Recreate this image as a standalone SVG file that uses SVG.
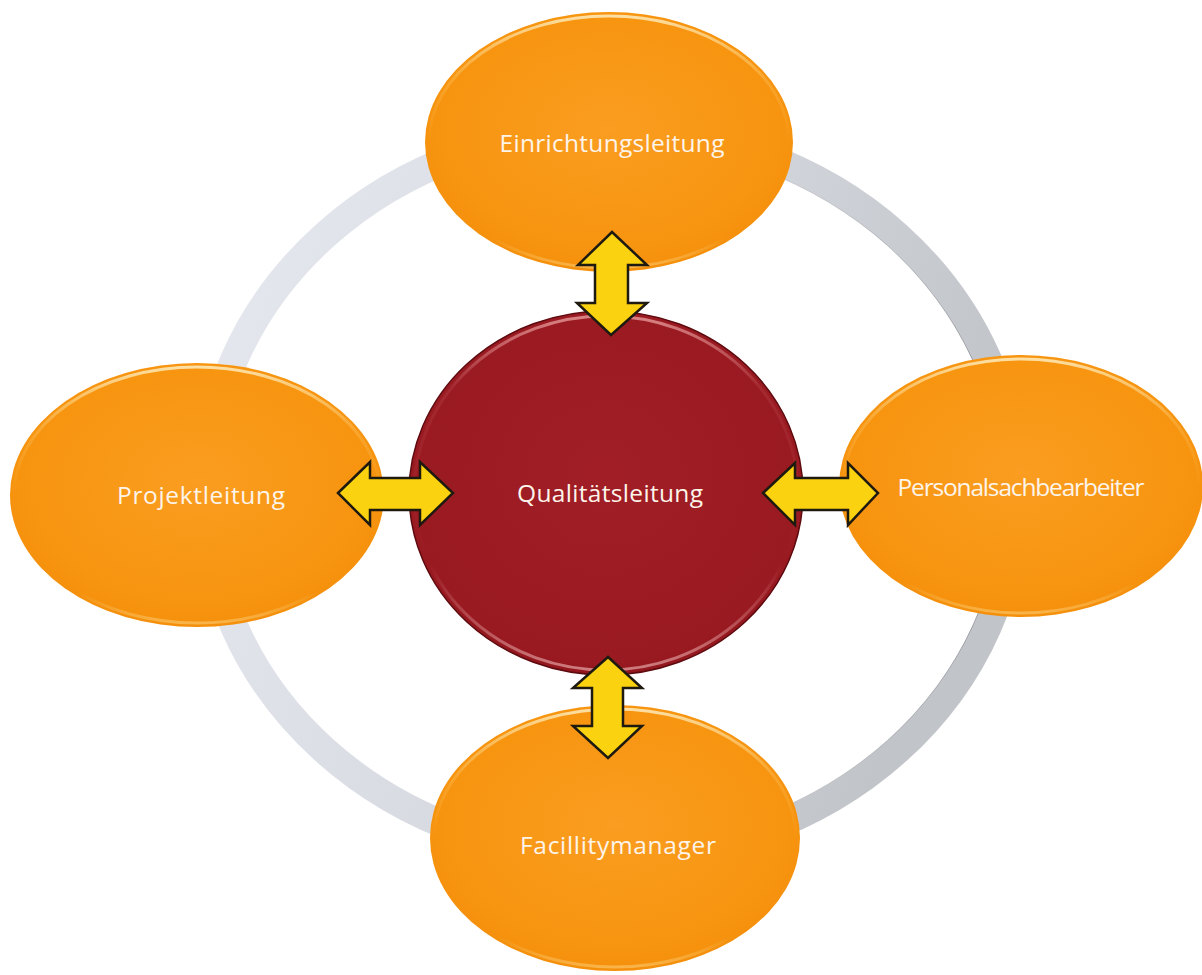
<svg xmlns="http://www.w3.org/2000/svg" width="1202" height="975" viewBox="0 0 1202 975">
  <defs>
    <linearGradient id="ringGrad" x1="0" y1="0" x2="1" y2="0.3">
      <stop offset="0" stop-color="#e6e9f0"/>
      <stop offset="0.5" stop-color="#d8dbe1"/>
      <stop offset="1" stop-color="#c1c4c9"/>
    </linearGradient>
    <radialGradient id="orangeGrad" cx="0.5" cy="0.45" r="0.6">
      <stop offset="0" stop-color="#fa9d20"/>
      <stop offset="0.8" stop-color="#f7940f"/>
      <stop offset="1" stop-color="#f28c0a"/>
    </radialGradient>
    <linearGradient id="orangeGloss" x1="0" y1="0" x2="0" y2="1">
      <stop offset="0" stop-color="#fff2c8" stop-opacity="0.8"/>
      <stop offset="0.25" stop-color="#ffd98a" stop-opacity="0.25"/>
      <stop offset="0.5" stop-color="#ffd98a" stop-opacity="0"/>
      <stop offset="0.88" stop-color="#ffe8a0" stop-opacity="0"/>
      <stop offset="1" stop-color="#ffe8a0" stop-opacity="0.4"/>
    </linearGradient>
    <radialGradient id="redGrad" cx="0.5" cy="0.45" r="0.6">
      <stop offset="0" stop-color="#a11e26"/>
      <stop offset="0.85" stop-color="#9a1a21"/>
      <stop offset="1" stop-color="#8a121a"/>
    </radialGradient>
    <linearGradient id="redGloss" x1="0" y1="0" x2="0" y2="1">
      <stop offset="0" stop-color="#f3b0b0" stop-opacity="0.7"/>
      <stop offset="0.2" stop-color="#f3b0b0" stop-opacity="0.1"/>
      <stop offset="0.7" stop-color="#f3b0b0" stop-opacity="0"/>
      <stop offset="1" stop-color="#f3c0c0" stop-opacity="0.6"/>
    </linearGradient>
    <linearGradient id="ringLine" x1="0" y1="0" x2="1" y2="0">
      <stop offset="0" stop-color="#9a9ca2" stop-opacity="0"/>
      <stop offset="0.6" stop-color="#9a9ca2" stop-opacity="0.1"/>
      <stop offset="1" stop-color="#6f7177" stop-opacity="0.7"/>
    </linearGradient>
  </defs>
  <style>
    .orange { fill: url(#orangeGrad); }
    .ogloss { fill: none; stroke: url(#orangeGloss); stroke-width: 3; }
    .red { fill: url(#redGrad); stroke: #5e0b10; stroke-width: 1.5; }
    .rgloss { fill: none; stroke: url(#redGloss); stroke-width: 3; }
    .label { font-family: "Open Sans", "DejaVu Sans", sans-serif; font-size: 24.5px; fill: #fdf4ea; text-anchor: middle; }
    .arrow { fill: #fad20f; stroke: #1e1a10; stroke-width: 2.5; stroke-linejoin: miter; }
  </style>
  <rect x="0" y="0" width="1202" height="975" fill="#ffffff"/>

  <g id="ring">
    <ellipse cx="611" cy="493" rx="405" ry="364" fill="none" stroke="url(#ringGrad)" stroke-width="28"/>
    <ellipse cx="611" cy="493" rx="391" ry="350" fill="none" stroke="url(#ringLine)" stroke-width="0.9"/>
  </g>

  <g id="node-einrichtungsleitung">
    <ellipse class="orange" cx="609" cy="142" rx="184" ry="130"/>
    <ellipse class="ogloss" cx="609" cy="142" rx="180" ry="126"/>
    <text class="label" x="612" y="152" textLength="225">Einrichtungsleitung</text>
  </g>

  <g id="node-projektleitung">
    <ellipse class="orange" cx="197" cy="495" rx="187" ry="132"/>
    <ellipse class="ogloss" cx="197" cy="495" rx="183" ry="128"/>
    <text class="label" x="201" y="504" textLength="168">Projektleitung</text>
  </g>

  <g id="node-personalsachbearbeiter">
    <ellipse class="orange" cx="1021" cy="486" rx="182" ry="131"/>
    <ellipse class="ogloss" cx="1021" cy="486" rx="178" ry="127"/>
    <text class="label" x="1021" y="496" textLength="247">Personalsachbearbeiter</text>
  </g>

  <g id="node-facilitymanager">
    <ellipse class="orange" cx="615" cy="838" rx="185" ry="133"/>
    <ellipse class="ogloss" cx="615" cy="838" rx="181" ry="129"/>
    <text class="label" x="618" y="854" textLength="196">Facillitymanager</text>
  </g>

  <g id="node-qualitaetsleitung">
    <ellipse class="red" cx="606" cy="493" rx="197" ry="182"/>
    <ellipse class="rgloss" cx="606" cy="493" rx="192" ry="177"/>
    <text class="label" x="610" y="502" textLength="186">Qualitätsleitung</text>
  </g>

  <g id="connectors">
    <polygon class="arrow" points="612,232 647,265 628,265 628,303 647,303 611,335 577,303 595,303 595,265 578,265"/>
    <polygon class="arrow" points="338,493 370,462 370,478 420,478 420,462 453,493 420,525 420,510 370,510 370,525"/>
    <polygon class="arrow" points="763,493 795,463 795,478 848,478 848,463 878,493 848,525 848,510 795,510 795,525"/>
    <polygon class="arrow" points="608,657 642,688 623,688 623,726 642,726 608,758 573,726 592,726 592,688 573,688"/>
  </g>
</svg>
